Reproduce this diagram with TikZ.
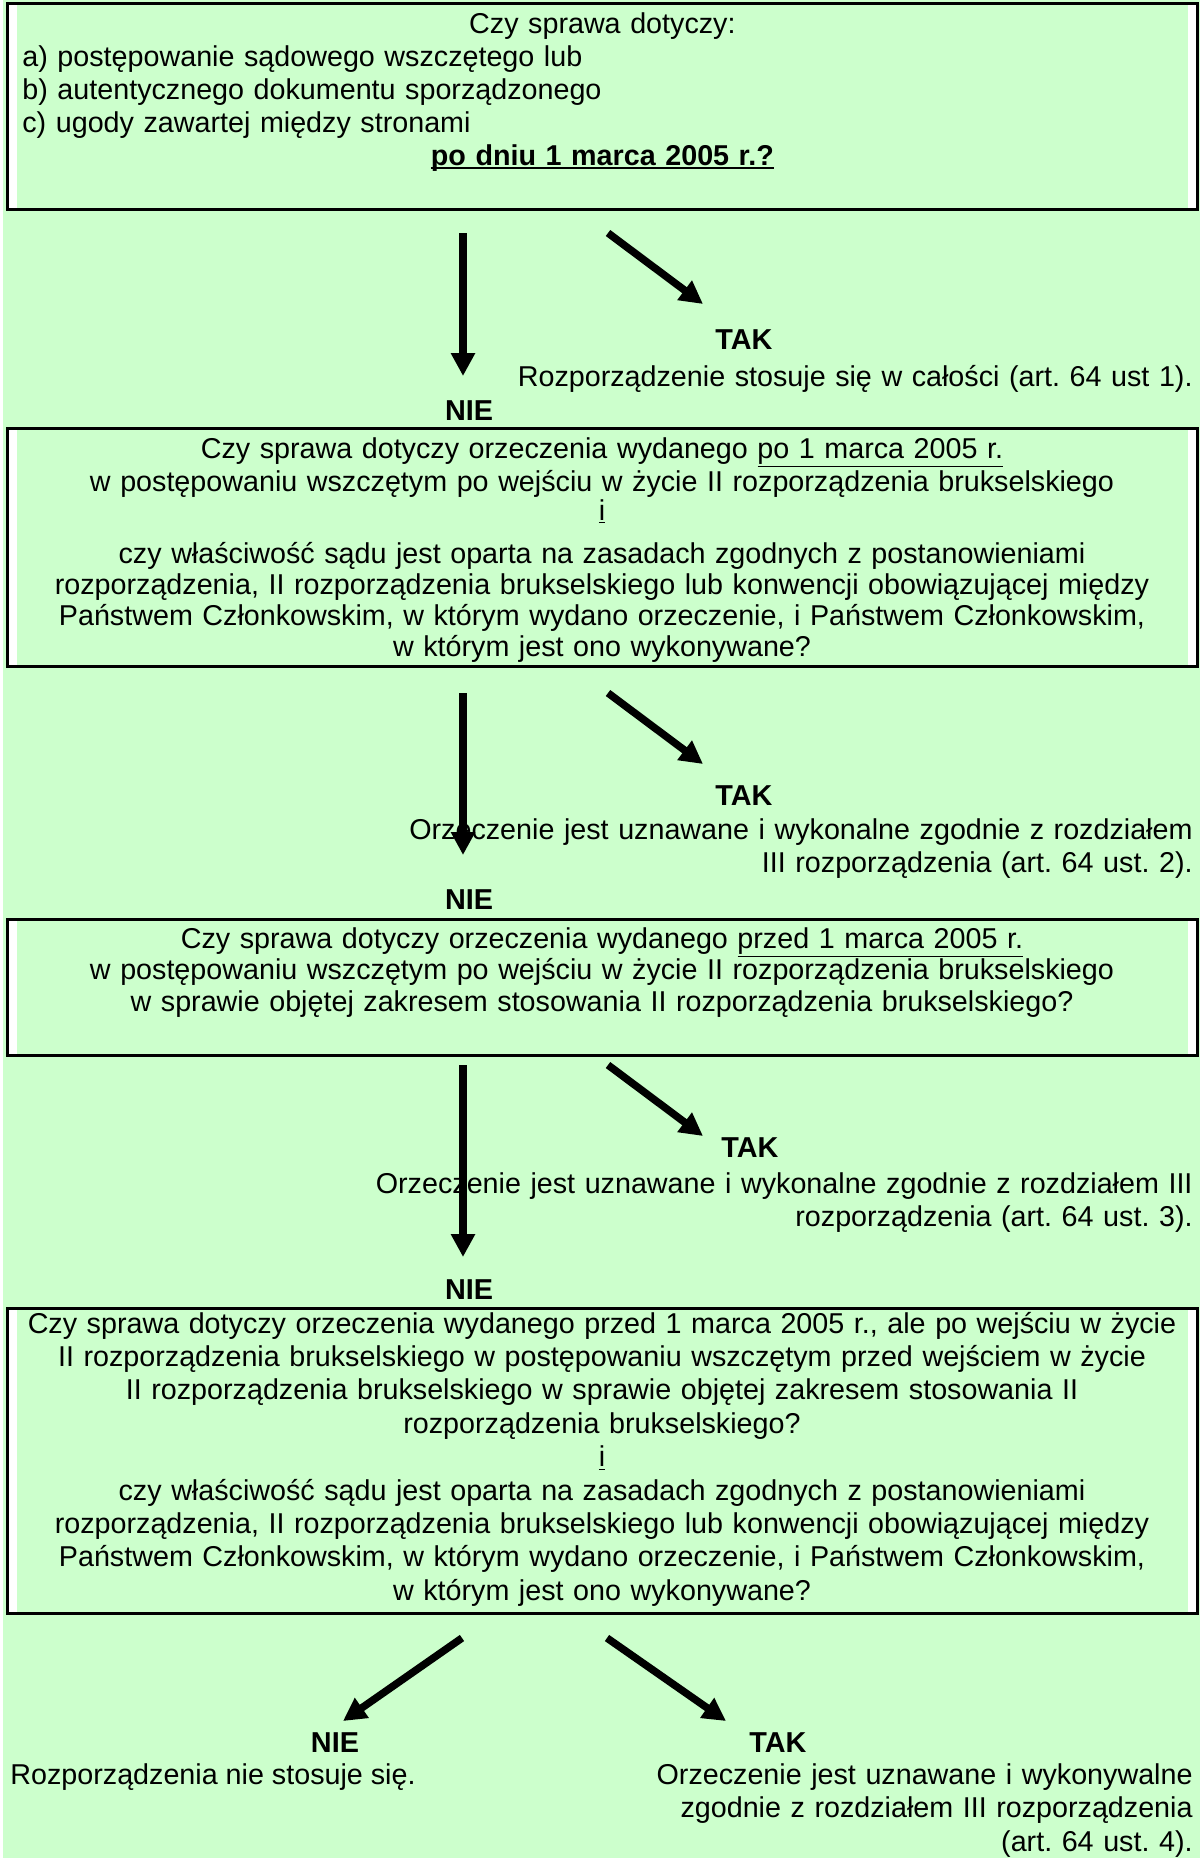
\documentclass[tikz,border=0pt]{standalone}
\usepackage{fontspec}
\setmainfont{Liberation Sans}
\usetikzlibrary{arrows.meta}
\definecolor{jasnozielony}{HTML}{CCFFCC}
\tikzset{
  ramka/.style={draw, line width=1.5pt, fill=white, inner sep=0pt, outer sep=0pt,
    anchor=north west, minimum width=595pt},
  tresc/.style={text width=595pt, align=center, inner sep=0pt, anchor=base},
  odpowiedz/.style={text width=480pt, align=right, inner sep=0pt, anchor=base east},
  etykieta/.style={font=\fontsize{14.4}{16.75}\selectfont\bfseries, inner sep=0pt, anchor=base},
  strzalka/.style={line width=3.75pt, -{Triangle[length=11.5pt,width=11.5pt]}}
}
\newcommand{\wnetrze}[1]{%
  \fill [jasnozielony] ([xshift=5pt,yshift=-0.75pt]#1.north west) rectangle ([xshift=-4.5pt,yshift=0.75pt]#1.south east);}
\newcommand{\grube}[1]{\setbox0\hbox{#1}\rlap{\usebox0}\rule[-2.2pt]{\wd0}{1pt}}
\frenchspacing

\begin{document}
\begin{tikzpicture}[x=0.5pt, y=-0.5pt, font=\fontsize{14.35}{16.75}\selectfont]
\useasboundingbox (0,0) rectangle (1200,1858);
\fill [jasnozielony] (3,0) rectangle (1200,1858);

% pytania
\node [ramka, minimum height=103pt] (p1) at (7,3) {};
\node [ramka, minimum height=119pt] (p2) at (7,428) {};
\node [ramka, minimum height=68pt] (p3) at (7,919) {};
\node [ramka, minimum height=152.5pt] (p4) at (7,1308) {};
\foreach \p in {p1,p2,p3,p4} {\wnetrze{\p}}

\node [tresc, text width=580pt, align=left, anchor=base west, font=\fontsize{14.35}{16.5}\selectfont] (q1) at (22,33)
  {\makebox[\linewidth]{Czy sprawa dotyczy:}\\
   a) postępowanie sądowego wszczętego lub\\
   b) autentycznego dokumentu sporządzonego\\
   c) ugody zawartej między stronami\\
   \makebox[\linewidth]{\bfseries\grube{po dniu 1 marca 2005 r.?}}};

\node [tresc, font=\fontsize{14.35}{15.5}\selectfont] (q2) at (602,458)
  {Czy sprawa dotyczy orzeczenia wydanego \underline{po 1 marca 2005 r.}\\
   w postępowaniu wszczętym po wejściu w życie II rozporządzenia brukselskiego\\[-1pt]
   \underline{i}\\[6pt]
   czy właściwość sądu jest oparta na zasadach zgodnych z postanowieniami\\
   rozporządzenia, II rozporządzenia brukselskiego lub konwencji obowiązującej między\\
   Państwem Członkowskim, w którym wydano orzeczenie, i Państwem Członkowskim,\\
   w którym jest ono wykonywane?};

\node [tresc, font=\fontsize{14.35}{15.75}\selectfont] (q3) at (602,948)
  {Czy sprawa dotyczy orzeczenia wydanego \underline{przed 1 marca 2005 r.}\\
   w postępowaniu wszczętym po wejściu w życie II rozporządzenia brukselskiego\\
   w sprawie objętej zakresem stosowania II rozporządzenia brukselskiego?};

\node [tresc, font=\fontsize{14.35}{16.7}\selectfont] (q4) at (602,1333)
  {Czy sprawa dotyczy orzeczenia wydanego przed 1 marca 2005 r., ale po wejściu w życie\\
   II rozporządzenia brukselskiego w postępowaniu wszczętym przed wejściem w życie\\
   II rozporządzenia brukselskiego w sprawie objętej zakresem stosowania II\\
   rozporządzenia brukselskiego?\\
   \underline{i}\\
   czy właściwość sądu jest oparta na zasadach zgodnych z postanowieniami\\
   rozporządzenia, II rozporządzenia brukselskiego lub konwencji obowiązującej między\\
   Państwem Członkowskim, w którym wydano orzeczenie, i Państwem Członkowskim,\\
   w którym jest ono wykonywane?};

% odpowiedzi
\node [etykieta] (tak1) at (744,349) {TAK};
\node [etykieta] (nie1) at (469,420) {NIE};
\node [etykieta] (tak2) at (744,805) {TAK};
\node [etykieta] (nie2) at (469,909) {NIE};
\node [etykieta] (tak3) at (750,1157) {TAK};
\node [etykieta] (nie3) at (469,1299) {NIE};
\node [etykieta] (tak4) at (778,1752) {TAK};
\node [etykieta] (nie4) at (335,1752) {NIE};

\node [odpowiedz] (o1) at (1193,386) {Rozporządzenie stosuje się w całości (art. 64 ust 1).};
\node [odpowiedz] (o2) at (1193,839)
  {Orzeczenie jest uznawane i wykonalne zgodnie z rozdziałem\\ III rozporządzenia (art. 64 ust. 2).};
\node [odpowiedz] (o3) at (1193,1193)
  {Orzeczenie jest uznawane i wykonalne zgodnie z rozdziałem III\\ rozporządzenia (art. 64 ust. 3).};
\node [inner sep=0pt, anchor=base west] (o4) at (10,1784) {Rozporządzenia nie stosuje się.};
\node [odpowiedz] (o5) at (1193,1784)
  {Orzeczenie jest uznawane i wykonywalne\hspace*{9pt}\\ zgodnie z rozdziałem III rozporządzenia\\ (art. 64 ust. 4).};

% strzalki
\foreach \n/\ya/\yb in {1/233/376, 2/693/855, 3/1065/1257} {
  \coordinate (pa\n) at (463,\ya);
  \coordinate (pb\n) at (463,\yb);
  \coordinate (sa\n) at (608,\ya);
  \coordinate (sb\n) at (703,{\ya+71});
}
\coordinate (la) at (462,1638);
\coordinate (lb) at (343,1721);
\coordinate (ra) at (607,1638);
\coordinate (rb) at (726,1721);

\foreach \n in {1,2,3} {\draw [strzalka] (pa\n) -- (pb\n); \draw [strzalka] (sa\n) -- (sb\n);}
\draw [strzalka] (la) -- (lb);
\draw [strzalka] (ra) -- (rb);

\end{tikzpicture}
\end{document}
